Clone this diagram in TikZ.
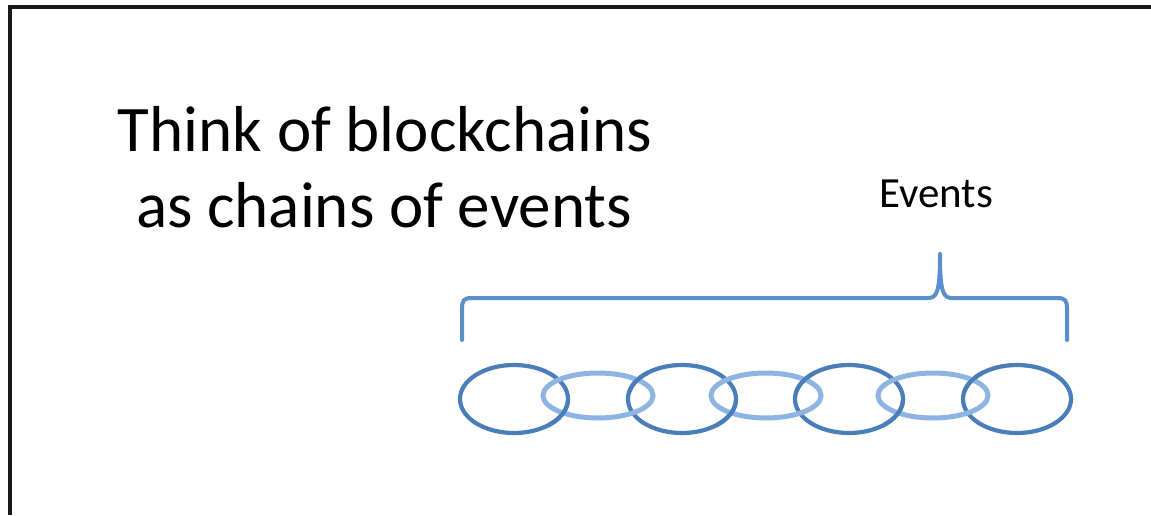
\documentclass[tikz,border=0pt]{standalone}
\usepackage{fontspec}
\setmainfont{Carlito}
\begin{document}
\begin{tikzpicture}[x=1pt,y=-1pt,
  frameline/.style={draw=black!90, line width=4pt},
  titletext/.style={font=\fontsize{65}{76}\selectfont, inner sep=0pt, anchor=base},
  labeltext/.style={font=\fontsize{43}{50}\selectfont, inner sep=0pt, anchor=base},
  bracketline/.style={draw=bracketblue, line width=4pt, line cap=round, line join=round},
  darklink/.style={draw=darkblue, line width=4.2pt},
  lightlink/.style={draw=lightblue, line width=5pt}]
\definecolor{darkblue}{HTML}{4A7EBB}
\definecolor{lightblue}{HTML}{8DB4E2}
\definecolor{bracketblue}{HTML}{5B8FCB}
\useasboundingbox (0,0) rectangle (1151,515);
\fill[white] (0,0) rectangle (1151,515);

% slide frame (top and left edges)
\draw[frameline] (9.5,515) -- (9.5,7) -- (1151,7);

% heading
\node[titletext] (line1) at (385,151) {Think of blockchains};
\node[titletext] (line2) at (384,227) {as chains of events};

% label above the brace
\node[labeltext] (events) at (936,207) {Events};

% curly brace over the chain
\coordinate (bl) at (462,340);
\coordinate (br) at (1067,340);
\coordinate (tip) at (940,254);
\draw[bracketline] (bl) -- (462,309) .. controls (462,300) and (464,298) .. (472,298)
  -- (928,298) .. controls (937,298) and (940,292) .. (tip)
  .. controls (940,292) and (943,298) .. (952,298)
  -- (1057,298) .. controls (1065,298) and (1067,300) .. (1067,309) -- (br);

% chain links: dark rings, then light rings threaded between them
\foreach \i/\x in {1/514,2/682,3/849,4/1017}{
  \coordinate (d\i) at (\x,399);
  \draw[darklink] (d\i) ellipse [x radius=54, y radius=34];
}
\foreach \i/\x in {1/598,2/766,3/933}{
  \coordinate (l\i) at (\x,395.5);
  \draw[lightlink] (l\i) ellipse [x radius=55, y radius=22.5];
}
% dark rings passing over the light ones at some crossings
\foreach \x in {514,682,849}{
  \begin{scope}
    \clip (\x+34,400) rectangle (\x+66,428);
    \draw[darklink] (\x,399) ellipse [x radius=54, y radius=34];
  \end{scope}
}
\foreach \x in {682,849,1017}{
  \begin{scope}
    \clip (\x-66,362) rectangle (\x-34,392);
    \draw[darklink] (\x,399) ellipse [x radius=54, y radius=34];
  \end{scope}
}
\end{tikzpicture}
\end{document}
